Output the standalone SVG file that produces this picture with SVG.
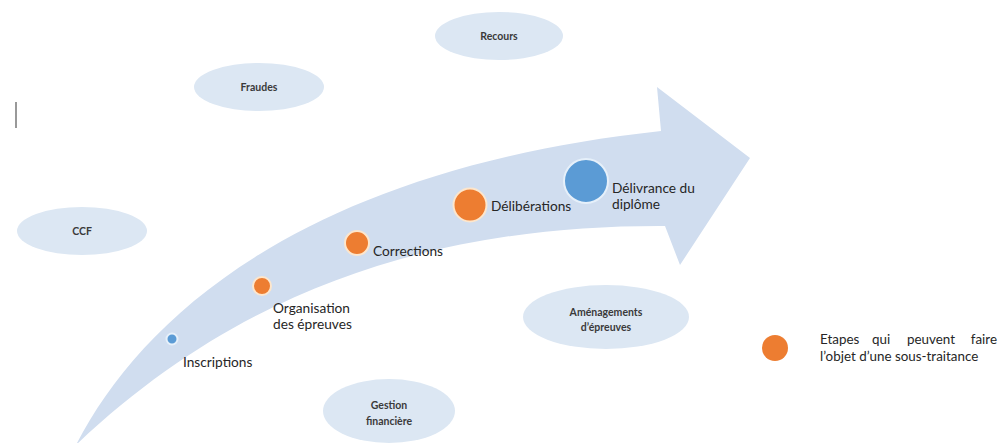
<svg xmlns="http://www.w3.org/2000/svg" width="998" height="443" viewBox="0 0 998 443">
<style>
.bub{fill:#dce7f3}
.bt{font-family:Lato,"Liberation Sans",sans-serif;font-weight:bold;font-size:10.5px;fill:#3a3a3a;text-anchor:middle}
.lb{font-family:Lato,"Liberation Sans",sans-serif;font-size:13.7px;fill:#262626}
.lg{font-family:Lato,"Liberation Sans",sans-serif;font-size:13.4px;fill:#262626}
.or{fill:#ed7d31;stroke:#fde6cc;stroke-width:2}
.bl{fill:#5b9bd5;stroke:#e6f0fa;stroke-width:2}
</style>
<rect width="998" height="443" fill="#ffffff"/>
<g id="arrow">
<path d="M76 445 C140 320 300 170 661 131 L657 87 L750 158 L680 265 L665 226 C450 225 250 280 76 445 Z" fill="#d0ddef"/>
</g>
<line x1="16" y1="102" x2="16" y2="128" stroke="#555" stroke-width="1.2"/>
<g id="recours"><ellipse class="bub" cx="499" cy="36" rx="64" ry="24"/><text class="bt" x="499" y="40">Recours</text></g>
<g id="fraudes"><ellipse class="bub" cx="259" cy="87" rx="65" ry="24"/><text class="bt" x="259" y="91">Fraudes</text></g>
<g id="ccf"><ellipse class="bub" cx="82" cy="231" rx="65" ry="24"/><text class="bt" x="82" y="235">CCF</text></g>
<g id="gestion"><ellipse class="bub" cx="389" cy="411" rx="66" ry="32"/><text class="bt" x="389" y="409">Gestion</text><text class="bt" x="389" y="425">financière</text></g>
<g id="amenagements"><ellipse class="bub" cx="606" cy="317" rx="83" ry="32"/><text class="bt" x="606" y="316">Aménagements</text><text class="bt" x="606" y="331">d’épreuves</text></g>
<g id="inscriptions"><circle class="bl" cx="172" cy="339" r="5.5"/><text class="lb" x="183" y="367">Inscriptions</text></g>
<g id="organisation"><circle class="or" cx="262" cy="286" r="9"/><text class="lb" x="273" y="313">Organisation</text><text class="lb" x="273" y="329">des épreuves</text></g>
<g id="corrections"><circle class="or" cx="357" cy="243" r="12"/><text class="lb" x="373" y="256">Corrections</text></g>
<g id="deliberations"><circle class="or" cx="470" cy="205" r="16.5"/><text class="lb" x="491" y="211">Délibérations</text></g>
<g id="delivrance"><circle class="bl" cx="586" cy="181" r="22"/><text class="lb" x="612" y="193">Délivrance du</text><text class="lb" x="612" y="209">diplôme</text></g>
<g id="legend"><circle cx="775" cy="348" r="13" fill="#ed7d31"/>
<text class="lg" y="344"><tspan x="820">Etapes</tspan><tspan x="872">qui</tspan><tspan x="907">peuvent</tspan><tspan x="997" text-anchor="end">faire</tspan></text>
<text class="lg" x="820" y="361">l’objet d’une sous-traitance</text></g>
<g id="connectors"></g>
</svg>
